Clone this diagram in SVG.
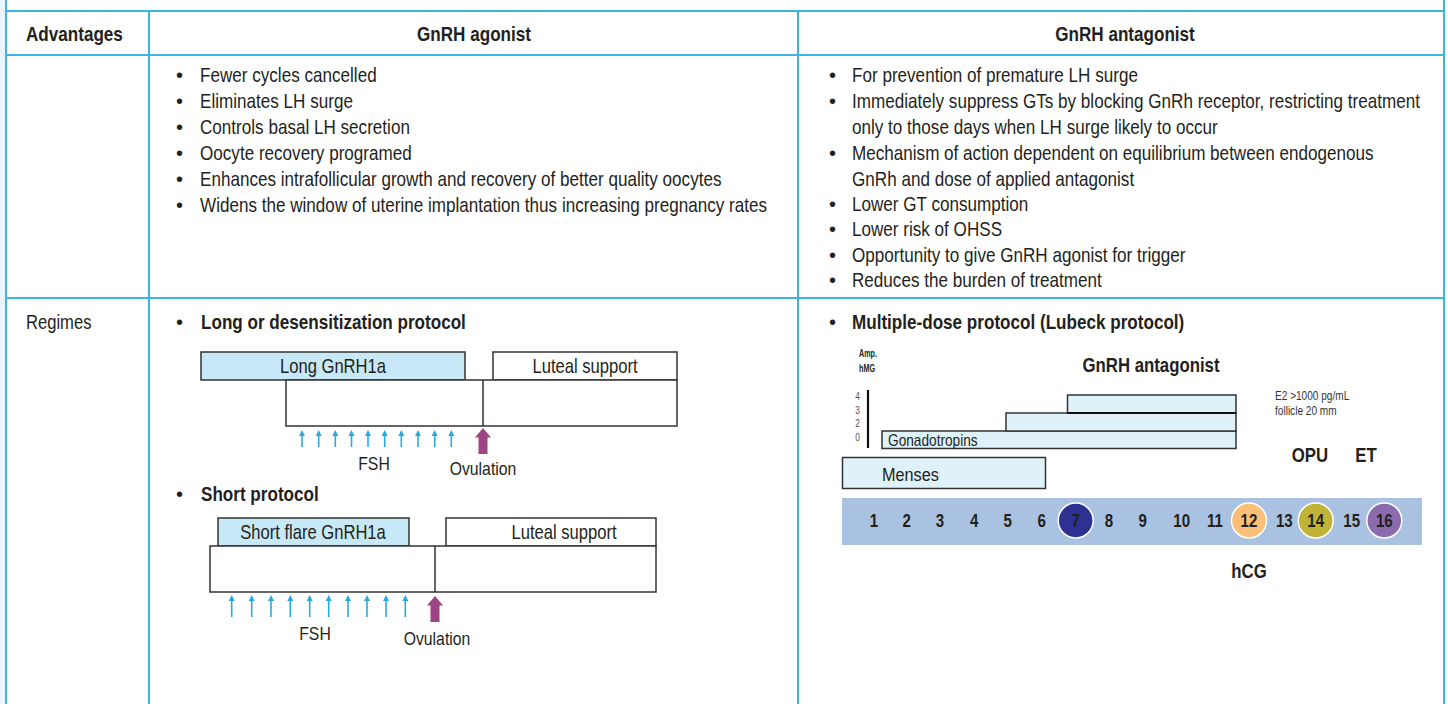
<svg xmlns="http://www.w3.org/2000/svg" width="1448" height="704" viewBox="0 0 1448 704">
<style>
text{font-family:"Liberation Sans",Arial,sans-serif;fill:#231f20}
.grid{stroke:#3bb5e8;stroke-width:2;fill:none}
.hd{font-size:20px;font-weight:bold}
.tx{font-size:20px}
.bb{font-size:20px;font-weight:bold}
.box{stroke:#333;stroke-width:1.5}
.bx1{fill:#c7e8f7}
.bx2{fill:#fff}
.bx3{fill:#dff2fa}
.bt{font-size:20px;text-anchor:middle}
.fsh{stroke:#27aae1;stroke-width:1.6;fill:none}
.fshh{fill:#27aae1}
.ov{fill:#9e4383}
.lab{font-size:19px;text-anchor:middle}
.sm{font-size:10px;font-weight:bold}
.tick{font-size:10.5px;fill:#555;text-anchor:middle}
.e2{font-size:12px;fill:#333}
.num{font-size:18px;font-weight:bold;text-anchor:middle}
.big{font-size:20px;font-weight:bold;text-anchor:middle}
</style>
<defs>
<g id="fa"><line class="fsh" x1="0" y1="4" x2="0" y2="17"/><path class="fshh" d="M0,0 L3,6 L-3,6 Z"/></g>
<g id="fa2"><line class="fsh" x1="0" y1="4" x2="0" y2="22"/><path class="fshh" d="M0,0 L3,6 L-3,6 Z"/></g>
<path id="ova" class="ov" d="M0,0 L8,9.5 L4.5,9.5 L4.5,26 L-4.5,26 L-4.5,9.5 L-8,9.5 Z"/>
</defs>
<rect x="0" y="0" width="5" height="704" fill="#e9f5fc"/>
<g id="table" class="grid">
<line x1="6" y1="0" x2="6" y2="704"/>
<line x1="1444" y1="0" x2="1444" y2="704"/>
<line x1="6" y1="11" x2="1444" y2="11"/>
<line x1="6" y1="55" x2="1444" y2="55"/>
<line x1="6" y1="298" x2="1444" y2="298"/>
<line x1="149" y1="11" x2="149" y2="704"/>
<line x1="798" y1="11" x2="798" y2="704"/>
</g>
<g id="header">
<text class="hd" transform="translate(26,41) scale(.855,1)">Advantages</text>
<text class="hd" text-anchor="middle" transform="translate(474,41) scale(.855,1)">GnRH agonist</text>
<text class="hd" text-anchor="middle" transform="translate(1125,41) scale(.855,1)">GnRH antagonist</text>
</g>
<g id="agonist-adv" class="tx">
<text x="176" y="82">•</text><text transform="translate(200,82) scale(.855,1)">Fewer cycles cancelled</text>
<text x="176" y="108">•</text><text transform="translate(200,108) scale(.855,1)">Eliminates LH surge</text>
<text x="176" y="134">•</text><text transform="translate(200,134) scale(.855,1)">Controls basal LH secretion</text>
<text x="176" y="160">•</text><text transform="translate(200,160) scale(.855,1)">Oocyte recovery programed</text>
<text x="176" y="186">•</text><text transform="translate(200,186) scale(.855,1)">Enhances intrafollicular growth and recovery of better quality oocytes</text>
<text x="176" y="212">•</text><text transform="translate(200,212) scale(.855,1)">Widens the window of uterine implantation thus increasing pregnancy rates</text>
</g>
<g id="antagonist-adv" class="tx">
<text x="829" y="82">•</text><text transform="translate(852,82) scale(.855,1)">For prevention of premature LH surge</text>
<text x="829" y="108">•</text><text transform="translate(852,108) scale(.855,1)">Immediately suppress GTs by blocking GnRh receptor, restricting treatment</text>
<text transform="translate(852,134) scale(.855,1)">only to those days when LH surge likely to occur</text>
<text x="829" y="160">•</text><text transform="translate(852,160) scale(.855,1)">Mechanism of action dependent on equilibrium between endogenous</text>
<text transform="translate(852,186) scale(.855,1)">GnRh and dose of applied antagonist</text>
<text x="829" y="211">•</text><text transform="translate(852,211) scale(.855,1)">Lower GT consumption</text>
<text x="829" y="236">•</text><text transform="translate(852,236) scale(.855,1)">Lower risk of OHSS</text>
<text x="829" y="262">•</text><text transform="translate(852,262) scale(.855,1)">Opportunity to give GnRH agonist for trigger</text>
<text x="829" y="287">•</text><text transform="translate(852,287) scale(.855,1)">Reduces the burden of treatment</text>
</g>
<text class="tx" transform="translate(26,329) scale(.83,1)">Regimes</text>
<g id="long-protocol">
<text class="tx" x="176" y="329">•</text><text class="bb" transform="translate(201,329) scale(.855,1)">Long or desensitization protocol</text>
<rect class="box bx1" x="201" y="352" width="264" height="28"/>
<text class="bt" transform="translate(333,373) scale(.83,1)">Long GnRH1a</text>
<rect class="box bx2" x="493" y="352" width="184" height="28"/>
<text class="bt" transform="translate(585,373) scale(.83,1)">Luteal support</text>
<rect class="box bx2" x="286" y="380" width="391" height="46"/>
<line class="box" x1="483" y1="380" x2="483" y2="426"/>
<use href="#fa" x="302" y="430"/><use href="#fa" x="318.7" y="430"/><use href="#fa" x="335.3" y="430"/><use href="#fa" x="351.5" y="430"/><use href="#fa" x="368" y="430"/><use href="#fa" x="384.7" y="430"/><use href="#fa" x="401.3" y="430"/><use href="#fa" x="418" y="430"/><use href="#fa" x="434.7" y="430"/><use href="#fa" x="451.3" y="430"/>
<use href="#ova" x="483" y="428"/>
<text class="lab" transform="translate(374,470) scale(.83,1)">FSH</text>
<text class="lab" transform="translate(483,475) scale(.83,1)">Ovulation</text>
</g>
<g id="short-protocol">
<text class="tx" x="176" y="501">•</text><text class="bb" transform="translate(201,501) scale(.855,1)">Short protocol</text>
<rect class="box bx1" x="218" y="518" width="191" height="28"/>
<text class="bt" transform="translate(313,539) scale(.83,1)">Short flare GnRH1a</text>
<rect class="box bx2" x="446" y="518" width="210" height="28"/>
<text class="bt" transform="translate(564,539) scale(.83,1)">Luteal support</text>
<rect class="box bx2" x="210" y="546" width="446" height="46"/>
<line class="box" x1="435" y1="546" x2="435" y2="592"/>
<use href="#fa2" x="231.7" y="595"/><use href="#fa2" x="251.7" y="595"/><use href="#fa2" x="271" y="595"/><use href="#fa2" x="290.3" y="595"/><use href="#fa2" x="309.7" y="595"/><use href="#fa2" x="328.7" y="595"/><use href="#fa2" x="348" y="595"/><use href="#fa2" x="367" y="595"/><use href="#fa2" x="386" y="595"/><use href="#fa2" x="405.3" y="595"/>
<use href="#ova" x="435" y="596"/>
<text class="lab" transform="translate(315,640) scale(.83,1)">FSH</text>
<text class="lab" transform="translate(437,645) scale(.83,1)">Ovulation</text>
</g>
<g id="antagonist-protocol">
<text class="tx" x="829" y="329">•</text><text class="bb" transform="translate(852,329) scale(.855,1)">Multiple-dose protocol (Lubeck protocol)</text>
<text class="sm" transform="translate(859,357) scale(.72,1)">Amp.</text>
<text class="sm" transform="translate(859,372) scale(.72,1)">hMG</text>
<text class="big" transform="translate(1151,372) scale(.84,1)">GnRH antagonist</text>
<line x1="868" y1="390" x2="868" y2="448" stroke="#111" stroke-width="2.2"/>
<text class="tick" transform="translate(857.5,400) scale(.8,1)">4</text>
<text class="tick" transform="translate(857.5,414) scale(.8,1)">3</text>
<text class="tick" transform="translate(857.5,427) scale(.8,1)">2</text>
<text class="tick" transform="translate(857.5,441) scale(.8,1)">0</text>
<rect class="box bx3" x="882" y="431" width="354" height="17.5"/>
<rect class="box bx3" x="1006" y="413" width="230" height="18"/>
<rect class="box bx3" x="1067.5" y="395" width="168.5" height="18"/>
<line x1="1067.5" y1="413" x2="1236" y2="413" stroke="#111" stroke-width="2"/>
<text transform="translate(888,446) scale(.855,1)" font-size="16px">Gonadotropins</text>
<text class="e2" transform="translate(1275,400) scale(.84,1)">E2 &gt;1000 pg/mL</text>
<text class="e2" transform="translate(1275,415) scale(.84,1)">follicle 20 mm</text>
<text class="big" transform="translate(1310,462) scale(.84,1)">OPU</text>
<text class="big" transform="translate(1366,462) scale(.84,1)">ET</text>
<rect class="box bx3" x="842.5" y="457.5" width="203" height="31"/>
<text transform="translate(882,481) scale(.855,1)" font-size="19px">Menses</text>
</g>
<g id="timeline">
<rect x="842" y="498" width="580" height="47" fill="#a9c2e1"/>
<circle cx="1075.7" cy="520.5" r="17.5" fill="#2e3192" stroke="#fff" stroke-width="1.5"/>
<circle cx="1249" cy="520.5" r="17.5" fill="#fbbf78" stroke="#fff" stroke-width="1.5"/>
<circle cx="1315.7" cy="520.5" r="17.5" fill="#c0b437" stroke="#fff" stroke-width="1.5"/>
<circle cx="1384.3" cy="520.5" r="17.5" fill="#8b6bae" stroke="#fff" stroke-width="1.5"/>
<text class="num" transform="translate(874,527) scale(.84,1)">1</text>
<text class="num" transform="translate(906.7,527) scale(.84,1)">2</text>
<text class="num" transform="translate(940,527) scale(.84,1)">3</text>
<text class="num" transform="translate(974.3,527) scale(.84,1)">4</text>
<text class="num" transform="translate(1007.7,527) scale(.84,1)">5</text>
<text class="num" transform="translate(1041.7,527) scale(.84,1)">6</text>
<text class="num" transform="translate(1075.7,527) scale(.84,1)">7</text>
<text class="num" transform="translate(1109,527) scale(.84,1)">8</text>
<text class="num" transform="translate(1142.7,527) scale(.84,1)">9</text>
<text class="num" transform="translate(1181.7,527) scale(.84,1)">10</text>
<text class="num" transform="translate(1215,527) scale(.84,1)">11</text>
<text class="num" transform="translate(1249,527) scale(.84,1)">12</text>
<text class="num" transform="translate(1284.3,527) scale(.84,1)">13</text>
<text class="num" transform="translate(1315.7,527) scale(.84,1)">14</text>
<text class="num" transform="translate(1351.7,527) scale(.84,1)">15</text>
<text class="num" transform="translate(1384.3,527) scale(.84,1)">16</text>
<text class="big" transform="translate(1249,578) scale(.84,1)">hCG</text>
</g>
</svg>
